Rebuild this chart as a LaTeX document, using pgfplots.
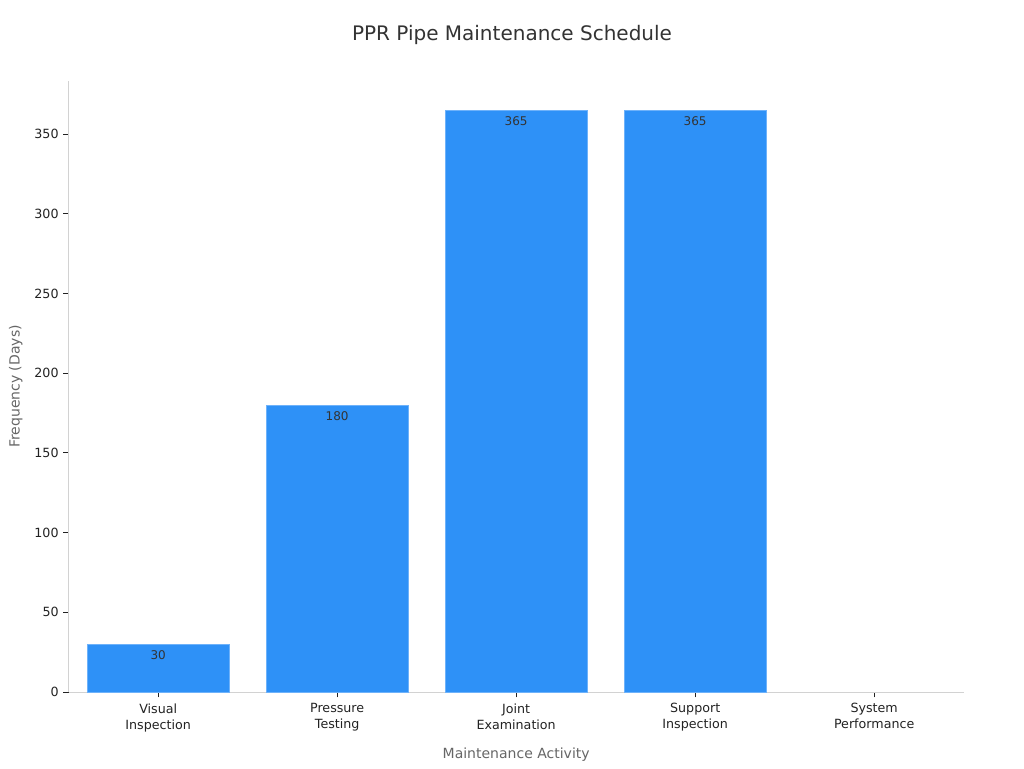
\documentclass[border=0pt]{standalone}
\usepackage{pgfplots}
\pgfplotsset{compat=1.18}
\usepackage{fontspec}
\setmainfont{DejaVu Sans}
\definecolor{barblue}{RGB}{46,145,247}
\definecolor{baredge}{RGB}{110,178,250}
\definecolor{spine}{RGB}{210,210,210}
\definecolor{ticktxt}{RGB}{34,34,34}
\definecolor{labtxt}{RGB}{102,102,102}
\definecolor{titletxt}{RGB}{51,51,51}
\begin{document}
\begin{tikzpicture}[x=1pt,y=1pt]
\path[use as bounding box] (0,0) rectangle (768,576);
\begin{axis}[
  at={(51.5pt,57pt)}, anchor=south west,
  scale only axis,
  width=671.25pt, height=458.25pt,
  xmin=-0.5, xmax=4.5,
  ymin=0, ymax=383.25,
  axis x line*=bottom, axis y line*=left,
  axis line style={spine, line width=0.7pt},
  xtick={0,1,2,3,4},
  xticklabels={Visual\\Inspection,Pressure\\Testing,Joint\\Examination,Support\\Inspection,System\\Performance},
  xticklabel style={align=center, font=\fontsize{9.5}{12}\selectfont, text=ticktxt, yshift=-1pt},
  ytick={0,50,100,150,200,250,300,350},
  yticklabel style={font=\fontsize{9.5}{11}\selectfont, text=ticktxt},
  /pgf/number format/assume math mode=true,
  tick style={color=ticktxt, line width=0.6pt},
  major tick length=4pt,
  tick align=outside,
  xlabel={Maintenance Activity},
  ylabel={Frequency (Days)},
  xlabel style={font=\fontsize{10.5}{12}\selectfont, text=labtxt, yshift=-5pt},
  ylabel style={font=\fontsize{10.5}{12}\selectfont, text=labtxt, yshift=2pt},
  ybar, bar width=106.5pt,
  nodes near coords,
  every node near coord/.append style={anchor=north, yshift=-1pt, font=\fontsize{9}{10}\selectfont, text=titletxt},
  clip=false,
]
\addplot[fill=barblue, draw=baredge, line width=0.6pt] coordinates {(0,30) (1,180) (2,365) (3,365)};
\end{axis}
\node[font=\fontsize{15}{18}\selectfont, text=titletxt] at (384,549.5) {PPR Pipe Maintenance Schedule};
\end{tikzpicture}
\end{document}
